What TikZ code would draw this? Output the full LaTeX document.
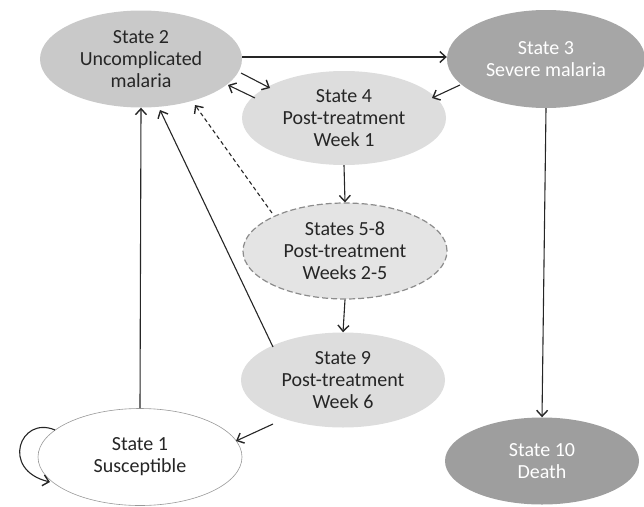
\documentclass[tikz,border=0pt]{standalone}
\usepackage{fontspec}
\setmainfont{Carlito}
\usetikzlibrary{shapes.geometric,arrows.meta}
\definecolor{gmid}{HTML}{C9C9C9}
\definecolor{gdark}{HTML}{A6A6A6}
\definecolor{glight}{HTML}{DDDDDD}
\definecolor{txt}{HTML}{262626}
\begin{document}
\begin{tikzpicture}[x=1pt,y=-1pt,
  st/.style={ellipse,minimum width=#1,inner sep=0pt,align=center,text=txt,
    font=\fontsize{20}{22}\selectfont},
  st/.default=202pt,
  arr/.style={-{Straight Barb[length=6pt,width=11pt,line width=1.4pt]},line width=1.1pt,draw=black!85},
]
\useasboundingbox (0,0) rectangle (644,506);
\node[st, fill=gmid, minimum height=97pt] (s2) at (141,59) {State 2\\Uncomplicated\\malaria};
\node[st=198pt, fill=gdark, minimum height=98pt, text=white] (s3) at (546,59) {State 3\\Severe malaria};
\node[st=204pt, fill=glight, minimum height=94pt] (s4) at (344,118) {State 4\\Post-treatment\\Week 1};
\node[st=204pt, fill=glight!80!white, minimum height=96pt, draw=black!45, dashed, dash pattern=on 6pt off 3pt, line width=1.2pt] (s58) at (345,251) {States 5-8\\Post-treatment\\Weeks 2-5};
\node[st=204pt, fill=glight, minimum height=95pt] (s9) at (343,380) {State 9\\Post-treatment\\Week 6};
\node[st=204pt, fill=white, minimum height=97pt, draw=black!40, line width=0.6pt] (s1) at (140,457) {State 1\\Susceptible};
\node[st=194pt, fill=gdark!95!black, minimum height=87pt, text=white] (s10) at (542,461) {State 10\\Death};

\draw[arr] (s2.east |- 0,57) -- (s3.west |- 0,57);
\draw[arr] (241,73) -- (270,88);
\draw[arr] (255,98) -- (228,85);
\draw[arr] (460,85) -- (432,98);
\draw[arr] (s4.south) -- (s58.north);
\draw[arr] (s58.south) -- (s9.north);
\draw[arr, dashed, dash pattern=on 4pt off 3pt] (272,213) -- (195,105);
\draw[arr] (273,347) -- (160,110);
\draw[arr] (273,424) -- (236,441);
\draw[arr] (s1.north) -- (s2.south);
\draw[arr] (s3.south) -- (s10.north);
\draw[arr] (55,430) .. controls (20,415) and (0,470) .. (50,482);
\end{tikzpicture}
\end{document}
